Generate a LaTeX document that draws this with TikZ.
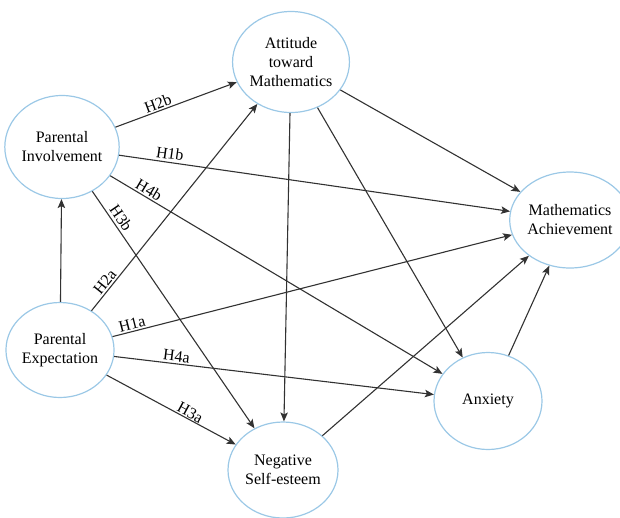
\documentclass[tikz,border=0pt]{standalone}
\usepackage{fontspec}
\setmainfont{Liberation Serif}
\usetikzlibrary{shapes.geometric,arrows.meta}
\definecolor{ringblue}{RGB}{155,200,230}
\definecolor{edgegray}{RGB}{50,50,50}
\tikzset{
  var/.style={ellipse, draw=ringblue, line width=1.2pt, inner sep=0pt, align=center,
              font=\fontsize{16}{19}\selectfont, text=black},
  path/.style={draw=edgegray, line width=1.1pt, -{Stealth[length=9pt,width=7.5pt,inset=2pt]}},
  lbl/.style={sloped, above, inner sep=1.5pt, font=\fontsize{16}{19}\selectfont, text=black}
}
\begin{document}
\begin{tikzpicture}[x=1pt,y=-1pt]
\useasboundingbox (0,0) rectangle (620,517);
\node[var, minimum width=105pt, minimum height=101pt] (Att) at (291,62) {Attitude\\toward\\Mathematics};
\node[var, minimum width=100pt, minimum height=103pt] (PI) at (62,147) {Parental\\Involvement};
\node[var, minimum width=103pt, minimum height=95pt] (PE) at (60,350) {Parental\\Expectation};
\node[var, minimum width=106pt, minimum height=96pt] (MA) at (570,220) {Mathematics\\Achievement};
\node[var, minimum width=108pt, minimum height=97pt] (Anx) at (488,401) {Anxiety};
\node[var, minimum width=110pt, minimum height=96pt] (NSE) at (283,470) {Negative\\Self-esteem};

\draw[path] (PE) -- (PI);
\draw[path] (PI) -- (Att);
\draw[path] (PI) -- (MA);
\draw[path] (PI) -- (Anx);
\draw[path] (PI) -- (NSE);
\draw[path] (PE) -- (Att);
\draw[path] (PE) -- (MA);
\draw[path] (PE) -- (Anx);
\draw[path] (PE) -- (NSE);
\draw[path] (Att) -- (MA);
\draw[path] (Att) -- (NSE);
\draw[path] (Att) -- (Anx);
\draw[path] (NSE) -- (MA);
\draw[path] (Anx) -- (MA);

\path (PI.center) -- (Att.center) node[lbl, pos=0.43] (l2b) {H2b};
\path (PI.center) -- (MA.center) node[lbl, pos=0.21, inner sep=3pt] (l1b) {H1b};
\path (PI.center) -- (Anx.center) node[lbl, pos=0.195, inner sep=2pt] (l4b) {H4b};
\path (PI.center) -- (NSE.center) node[lbl, pos=0.235, inner sep=3pt] (l3b) {H3b};
\path (PE.center) -- (Att.center) node[lbl, pos=0.22, inner sep=2pt] (l2a) {H2a};
\path (PE.center) -- (MA.center) node[lbl, pos=0.145, inner sep=2pt] (l1a) {H1a};
\path (PE.center) -- (Anx.center) node[lbl, pos=0.27, inner sep=2pt] (l4a) {H4a};
\path (PE.center) -- (NSE.center) node[lbl, pos=0.57, inner sep=1pt] (l3a) {H3a};
\end{tikzpicture}
\end{document}
